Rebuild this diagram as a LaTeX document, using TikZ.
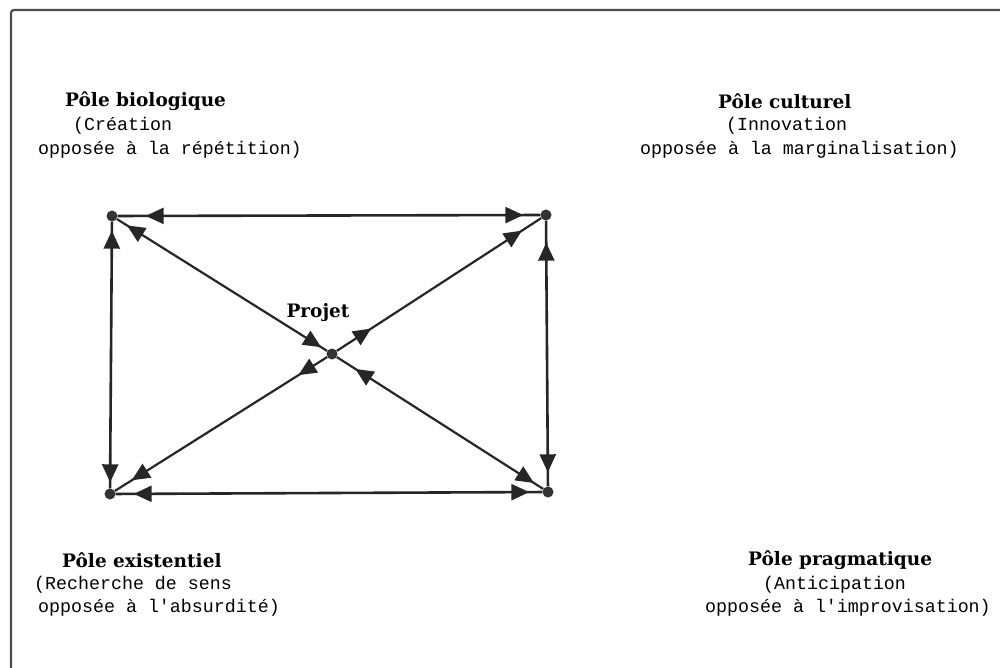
\documentclass[tikz,border=0pt]{standalone}
\usepackage{fontspec}
\setmainfont{DejaVu Serif}
\setmonofont{Liberation Mono}
\usetikzlibrary{arrows.meta,decorations.markings}

\begin{document}
\begin{tikzpicture}[x=1pt, y=-1pt,
	>={Triangle[length=18pt,width=16pt]},
	pole/.style={circle, fill=black!80, inner sep=0pt, minimum size=11pt},
	titre/.style={anchor=west, inner sep=0pt, font=\bfseries\fontsize{18.5}{20}\selectfont},
	texte/.style={anchor=west, inner sep=0pt, font=\ttfamily\fontsize{18.3}{20}\selectfont},
	lien/.style={draw=black!85, line width=2.6pt},
	avant/.style={postaction={decorate, decoration={markings, mark=at position #1 with {\arrow[black!85]{>}}}}},
	arriere/.style={postaction={decorate, decoration={markings, mark=at position #1 with {\arrowreversed[black!85]{>}}}}}
]
	\useasboundingbox (0,0) rectangle (1000,668);

	% Cadre
	\draw[line width=2.2pt, black!70, rounded corners=3pt] (11,668) -- (11,10) -- (1000,10);

	% Les quatre poles et le projet
	\node[pole] (bio) at (112,216) {};
	\node[pole] (cult) at (546,215) {};
	\node[pole] (exis) at (110,494) {};
	\node[pole] (prag) at (548,492) {};
	\node[pole] (projet) at (332,354) {};
	\node[titre, anchor=center] (nomprojet) at (318,313) {Projet};

	% Cotes du rectangle
	\draw[lien, arriere=28pt, avant=-17pt] (bio) -- (cult);
	\draw[lien, arriere=9pt, avant=-6pt] (bio) -- (exis);
	\draw[lien, arriere=22pt, avant=-14pt] (cult) -- (prag);
	\draw[lien, arriere=18pt, avant=-13pt] (exis) -- (prag);

	% Diagonales
	\draw[lien, line width=2.2pt, arriere=12pt, avant=-7pt] (bio) -- (projet);
	\draw[lien, line width=2.2pt, arriere=11pt, avant=-22pt] (prag) -- (projet);
	\draw[lien, line width=2.2pt, avant=41pt, avant=-23pt] (projet) -- (cult);
	\draw[lien, line width=2.2pt, avant=34pt, avant=-20pt] (projet) -- (exis);

	% Textes
	%Pole biologique
	\node[titre] (biotitre) at (65,101) {Pôle biologique};
	\node[texte] (bioun) at (73,126) {(Création};
	\node[texte] (biodeux) at (38,150) {opposée à la répétition)};
	%Pole culturel
	\node[titre] (culttitre) at (718,101) {Pôle culturel};
	\node[texte] (cultun) at (726,126) {(Innovation};
	\node[texte] (cultdeux) at (640,150) {opposée à la marginalisation)};
	%Pole existentiel
	\node[titre] (existitre) at (62,560) {Pôle existentiel};
	\node[texte] (exisun) at (34,585) {(Recherche de sens};
	\node[texte] (exisdeux) at (38,608) {opposée à l'absurdité)};
	%Pole pragmatique
	\node[titre] (pragtitre) at (748,560) {Pôle pragmatique};
	\node[texte] (pragun) at (763,585) {(Anticipation};
	\node[texte] (pragdeux) at (705,608) {opposée à l'improvisation)};
\end{tikzpicture}
\end{document}
